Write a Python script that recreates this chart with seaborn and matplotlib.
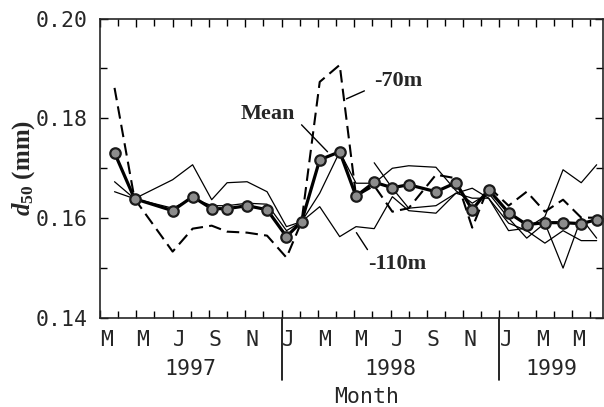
import numpy as np
import pandas as pd
import seaborn as sns
import matplotlib
matplotlib.use("Agg")
import matplotlib.pyplot as plt
from matplotlib.ticker import MultipleLocator, FixedLocator

# ---- data (month index: 0 = Jan 1998) ----
month_pos = [-9.2, -8.1, -6.0, -4.9, -3.85, -3.0, -1.9, -0.8, 0.27, 1.1, 2.1, 3.2, 4.1,
             5.1, 6.1, 7.0, 8.5, 9.6, 10.5, 11.4, 12.5, 13.5, 14.5, 15.5, 16.5, 17.35]

mean_d50 = [0.1731, 0.1639, 0.1615, 0.1643, 0.1619, 0.1619, 0.1625, 0.1617, 0.1563, 0.1593,
            0.1717, 0.1733, 0.1644, 0.1672, 0.1661, 0.1667, 0.1653, 0.1671, 0.1617, 0.1657,
            0.1611, 0.1587, 0.1591, 0.1591, 0.1589, 0.1597]
d50_70m = [0.1861, 0.1639, 0.1533, 0.1579, 0.1585, 0.1573, 0.1571, 0.1565, 0.1521, 0.1593,
           0.1873, 0.1907, 0.1644, 0.1665, 0.1613, 0.1620, 0.1687, 0.1680, 0.1581, 0.1663,
           0.1625, 0.1653, 0.1613, 0.1637, 0.1601, 0.1601]
d50_110m = [0.1673, 0.1639, 0.1620, 0.1640, 0.1625, 0.1625, 0.1630, 0.1628, 0.1575, 0.1593,
            0.1623, 0.1563, 0.1583, 0.1579, 0.1643, 0.1615, 0.1610, 0.1650, 0.1640, 0.1640,
            0.1590, 0.1575, 0.1550, 0.1575, 0.1555, 0.1555]
d50_st_a = [0.1653, 0.1639, 0.1677, 0.1707, 0.1637, 0.1671, 0.1673, 0.1653, 0.1583, 0.1593,
            0.1650, 0.1733, 0.1670, 0.1670, 0.1700, 0.1705, 0.1702, 0.1655, 0.1630, 0.1650,
            0.1600, 0.1560, 0.1590, 0.1500, 0.1600, 0.1560]
d50_st_b = [np.nan] * 13 + [0.1711, 0.1660, 0.1620, 0.1625, 0.1650, 0.1660, 0.1640,
                            0.1575, 0.1580, 0.1603, 0.1697, 0.1671, 0.1707]

month_letters = ["M", "M", "J", "S", "N", "J", "M", "M", "J", "S", "N", "J", "M", "M"]
month_letter_pos = [-10, -8, -6, -4, -2, 0, 2, 4, 6, 8, 10, 12, 14, 16]
years = ["1997", "1998", "1999"]
year_centers = [-5.0, 6.0, 14.85]
year_dividers = [0, 12]
y_ticks = [0.14, 0.16, 0.18, 0.20]

# ---- figure ----
sns.set_style("ticks")
plt.rcParams["font.family"] = ["DejaVu Sans Mono", "DejaVu Sans"]
plt.rcParams["mathtext.fontset"] = "custom"
plt.rcParams["mathtext.it"] = "Liberation Serif:italic:bold"
plt.rcParams["mathtext.rm"] = "Liberation Serif:bold"
plt.rcParams["mathtext.bf"] = "Liberation Serif:bold"

fig = plt.figure(figsize=(6.04, 4.07), dpi=100)
ax = fig.add_axes([100 / 604, (407 - 318) / 407, 503 / 604, 299.5 / 407])

df = pd.DataFrame({"month": month_pos, "mean": mean_d50, "m70": d50_70m,
                   "m110": d50_110m, "a": d50_st_a, "b": d50_st_b})

for col in ["a", "m110", "b"]:
    sub = df[["month", col]].dropna()
    sns.lineplot(data=sub, x="month", y=col, ax=ax, color="black", lw=0.9,
                 estimator=None, sort=False)
sns.lineplot(data=df, x="month", y="m70", ax=ax, color="black", lw=1.5,
             estimator=None, sort=False, dashes=False)
ax.lines[-1].set_dashes([6, 3])
sns.lineplot(data=df, x="month", y="mean", ax=ax, color="black", lw=2.3,
             estimator=None, sort=False, marker="o", markersize=7.5,
             markerfacecolor="#8c8c8c", markeredgecolor="#1a1a1a", markeredgewidth=1.6)

ax.set_xlim(-10.0, 17.7)
ax.set_ylim(0.14, 0.20)
ax.set_xlabel("")
ax.set_ylabel(r"$d_{50}$ (mm)", family="Liberation Serif", fontweight="bold",
              fontsize=18)
ax.yaxis.set_label_coords(-0.125, 0.5)

ax.yaxis.set_major_locator(FixedLocator(y_ticks))
ax.yaxis.set_minor_locator(MultipleLocator(0.01))
ax.set_yticklabels([f"{v:.2f}" for v in y_ticks])
ax.xaxis.set_major_locator(FixedLocator(month_letter_pos))
ax.xaxis.set_minor_locator(MultipleLocator(1))
ax.set_xticklabels(month_letters)
for lab in ax.get_xticklabels():
    lab.set_horizontalalignment("left")
ax.tick_params(axis="both", which="both", direction="in", top=True, right=True,
               color="black", width=1.0)
ax.tick_params(axis="both", which="major", length=6, labelsize=15.5)
ax.tick_params(axis="both", which="minor", length=5)
ax.tick_params(axis="x", which="major", pad=9)
ax.tick_params(axis="y", which="major", pad=9)
for sp in ax.spines.values():
    sp.set_linewidth(1.2)
    sp.set_visible(True)

trans = ax.get_xaxis_transform()
for xd in year_dividers:
    ax.plot([xd, xd], [0, -0.207], transform=trans, color="black", lw=1.2, clip_on=False)
for yr, xc in zip(years, year_centers):
    ax.text(xc, -0.17, yr, transform=trans, ha="center", va="center", fontsize=15.5)
ax.text(4.7, -0.265, "Month", transform=trans, ha="center", va="center", fontsize=15.5)

lab_kw = dict(family="Liberation Serif", fontweight="bold", fontsize=16,
              ha="center", va="center")
ax.text(-0.77, 0.1809, "Mean", **lab_kw)
ax.text(6.43, 0.1875, "-70m", **lab_kw)
ax.text(6.37, 0.1509, "-110m", **lab_kw)
lk = dict(arrowprops=dict(arrowstyle="-", color="black", lw=1.0, shrinkA=0, shrinkB=0))
ax.annotate("", xy=(2.53, 0.1733), xytext=(1.10, 0.1787), **lk)
ax.annotate("", xy=(3.57, 0.1839), xytext=(4.56, 0.1855), **lk)
ax.annotate("", xy=(4.12, 0.1571), xytext=(4.73, 0.1537), **lk)

fig.savefig("out.png", dpi=100)
